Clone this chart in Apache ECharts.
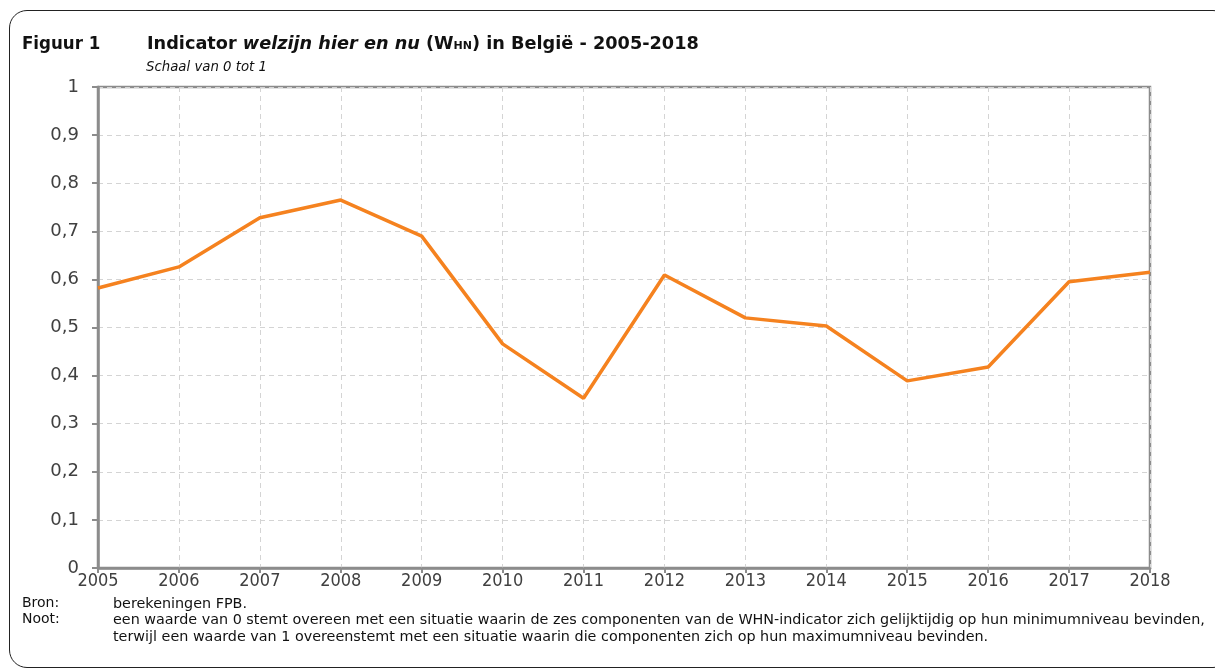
<!DOCTYPE html>
<html>
<head>
<meta charset="utf-8">
<script src="https://cdn.jsdelivr.net/npm/echarts@6/dist/echarts.min.js"></script>
<style>
body{margin:0;background:#fff;}
#frame{position:absolute;left:9px;top:10px;width:1220px;height:656px;border:1.5px solid #222;border-radius:18px;}
#chart{position:absolute;left:0;top:0;width:1215px;height:672px;}
</style>
</head>
<body>
<div id="frame"></div>
<div id="chart"></div>
<script>
// jaren en indicatorwaarden (WHN, schaal 0-1)
var years = ['2005','2006','2007','2008','2009','2010','2011','2012','2013','2014','2015','2016','2017','2018'];
var whn = [0.582, 0.626, 0.728, 0.765, 0.690, 0.466, 0.353, 0.609, 0.520, 0.503, 0.389, 0.418, 0.595, 0.615];

var font = 'DejaVu Sans Condensed';
var wide = 'DejaVu Sans';
var myChart = echarts.init(document.getElementById('chart'));
var option = {
    animation: false,
    textStyle: {fontFamily: font},
    title: [
        {text: 'Figuur 1', left: 22, top: 34.5, padding: 0, textStyle: {fontFamily: font, fontSize: 18.5, fontWeight: 'bold', color: '#111'}},
        {
            text: '{n|Indicator }{i|welzijn hier en nu}{n| (W}{s|HN}{n|) in België - 2005-2018}',
            left: 147, top: 35, padding: 0,
            textStyle: {
                rich: {
                    n: {fontFamily: wide, fontSize: 17.7, fontWeight: 'bold', color: '#111'},
                    i: {fontFamily: wide, fontSize: 17.7, fontWeight: 'bold', fontStyle: 'italic', color: '#111'},
                    s: {fontFamily: wide, fontSize: 11, fontWeight: 'bold', color: '#111', verticalAlign: 'bottom', padding: [0, 0, 1, 0]}
                }
            }
        },
        {text: 'Schaal van 0 tot 1', left: 146, top: 61, padding: 0, textStyle: {fontFamily: wide, fontSize: 13.3, fontStyle: 'italic', fontWeight: 'normal', color: '#111'}},
        {text: 'Bron:', left: 22, top: 596, padding: 0, textStyle: {fontFamily: wide, fontSize: 14, fontWeight: 'normal', color: '#111'}},
        {text: 'Noot:', left: 22, top: 612.5, padding: 0, textStyle: {fontFamily: wide, fontSize: 14, fontWeight: 'normal', color: '#111'}},
        {
            text: 'berekeningen FPB.\neen waarde van 0 stemt overeen met een situatie waarin de zes componenten van de WHN-indicator zich gelijktijdig op hun minimumniveau bevinden,\nterwijl een waarde van 1 overeenstemt met een situatie waarin die componenten zich op hun maximumniveau bevinden.',
            left: 113, top: 596, padding: 0,
            textStyle: {fontFamily: wide, fontSize: 14.35, fontWeight: 'normal', color: '#111', lineHeight: 16.5}
        }
    ],
    grid: {
        left: 98, right: 65, top: 87, bottom: 104,
        show: true, borderColor: '#8c8c8c', borderWidth: 2.5
    },
    xAxis: {
        type: 'category',
        data: years,
        boundaryGap: false,
        axisLine: {lineStyle: {color: '#8c8c8c', width: 2.5}},
        axisTick: {show: true, length: 5, lineStyle: {color: '#8c8c8c', width: 2}},
        axisLabel: {fontFamily: font, fontSize: 18, color: '#404040', margin: 4},
        splitLine: {show: true, lineStyle: {color: '#d4d4d4', type: [5, 4], width: 1}}
    },
    yAxis: {
        type: 'value',
        min: 0, max: 1, interval: 0.1,
        axisLine: {show: true, lineStyle: {color: '#8c8c8c', width: 2.5}},
        axisTick: {show: true, length: 6, lineStyle: {color: '#8c8c8c', width: 2}},
        axisLabel: {
            fontFamily: wide, fontSize: 18, color: '#404040', margin: 19,
            formatter: function (v) { return String(Math.round(v * 10) / 10).replace('.', ','); }
        },
        splitLine: {show: true, lineStyle: {color: '#d4d4d4', type: [5, 4], width: 1}}
    },
    series: [{
        name: 'WHN',
        type: 'line',
        data: whn,
        symbol: 'none',
        lineStyle: {color: '#f5821f', width: 3.5},
        z: 5
    }]
};
myChart.setOption(option);
</script>
</body>
</html>
